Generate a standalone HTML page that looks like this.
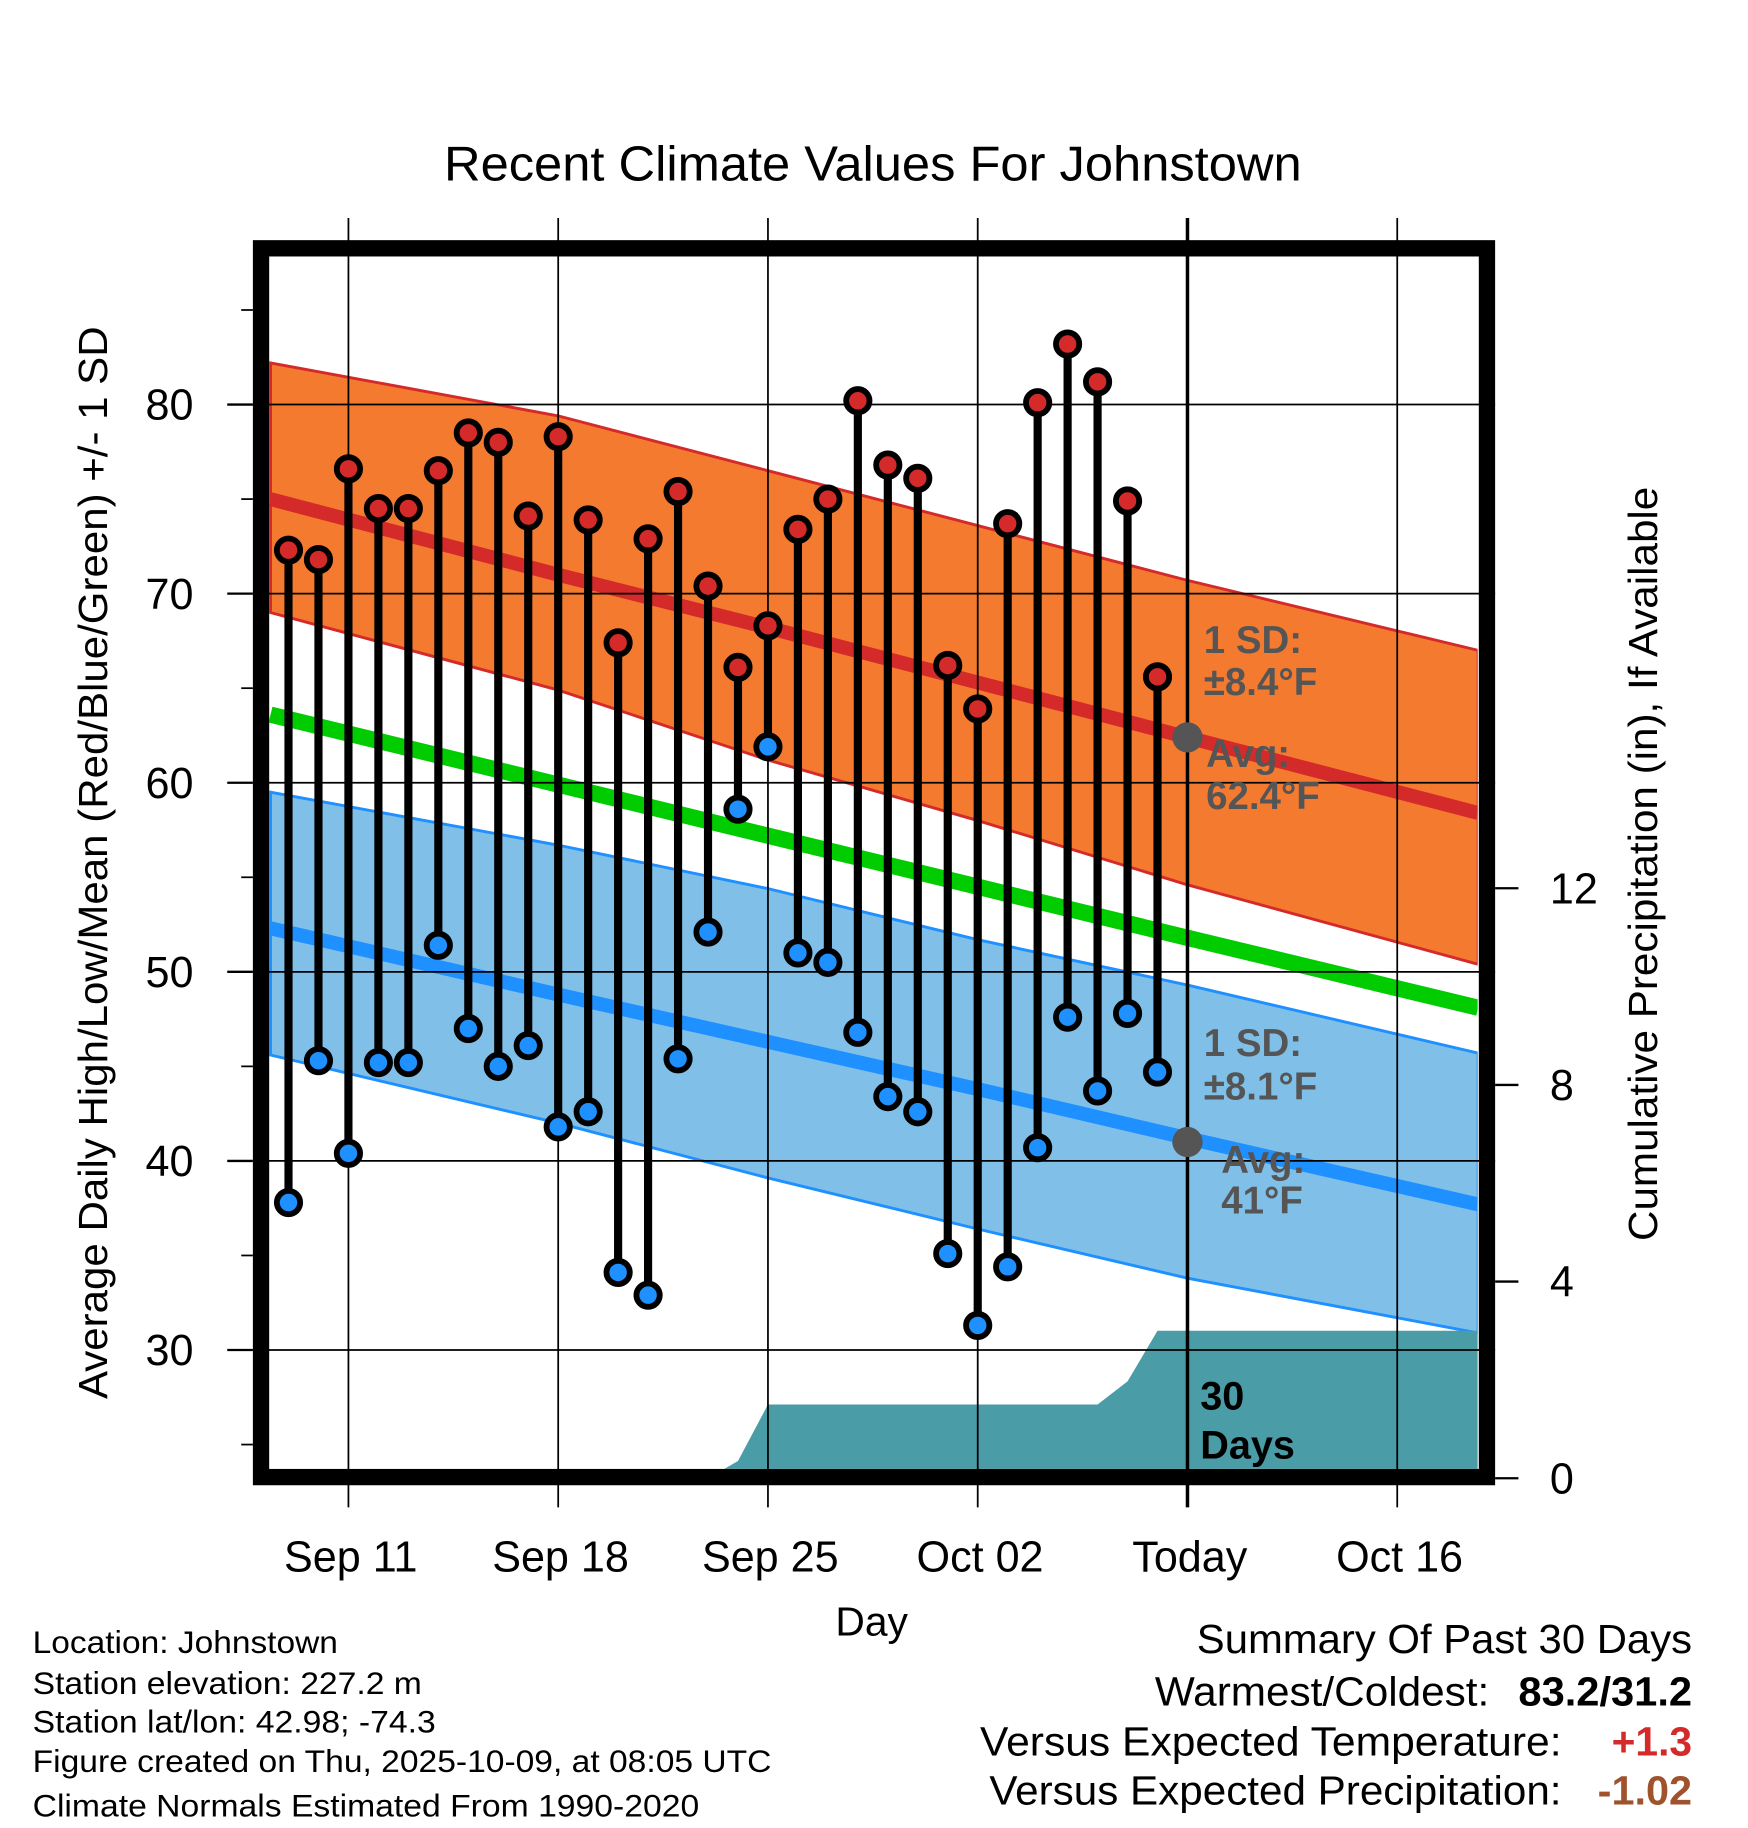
<!DOCTYPE html>
<html><head><meta charset="utf-8"><style>
html,body{margin:0;padding:0;background:#fff}
svg{display:block}
text{font-family:"Liberation Sans",Arial,sans-serif}
</style></head><body>
<svg id="chart" width="1748" height="1828" viewBox="0 0 1500 1568" preserveAspectRatio="none" xmlns="http://www.w3.org/2000/svg">
<defs><clipPath id="plotclip"><rect x="231" y="220" width="1037" height="1040"/></clipPath></defs>
<rect width="1500" height="1568" fill="#fff"/>
<text x="749" y="155" font-size="42" text-anchor="middle" textLength="736" lengthAdjust="spacingAndGlyphs">Recent Climate Values For Johnstown</text>
<g id="plot" clip-path="url(#plotclip)"></g>
<g id="grid"></g>
<g id="marks"></g>
<g id="annot"></g>
<rect x="224" y="213" width="1052" height="1054" fill="none" stroke="#000" stroke-width="14"/>
<g id="axes"></g>
<text transform="translate(92,740) rotate(-90)" font-size="35" text-anchor="middle" textLength="920" lengthAdjust="spacingAndGlyphs">Average Daily High/Low/Mean (Red/Blue/Green) +/- 1 SD</text>
<text transform="translate(1422,741) rotate(-90)" font-size="35" text-anchor="middle" textLength="647" lengthAdjust="spacingAndGlyphs">Cumulative Precipitation (in), If Available</text>
<text x="748" y="1403" font-size="35" text-anchor="middle">Day</text>
<g font-size="27">
<text x="28" y="1418" textLength="262" lengthAdjust="spacingAndGlyphs">Location: Johnstown</text>
<text x="28" y="1453" textLength="334" lengthAdjust="spacingAndGlyphs">Station elevation: 227.2 m</text>
<text x="28" y="1486" textLength="346" lengthAdjust="spacingAndGlyphs">Station lat/lon: 42.98; -74.3</text>
<text x="28" y="1520" textLength="634" lengthAdjust="spacingAndGlyphs">Figure created on Thu, 2025-10-09, at 08:05 UTC</text>
<text x="28" y="1558" textLength="572" lengthAdjust="spacingAndGlyphs">Climate Normals Estimated From 1990-2020</text>
</g>
<g font-size="35">
<text x="1027" y="1418" textLength="425" lengthAdjust="spacingAndGlyphs">Summary Of Past 30 Days</text>
<text x="991" y="1463" textLength="287" lengthAdjust="spacingAndGlyphs">Warmest/Coldest:</text>
<text x="1303" y="1463" font-weight="bold" textLength="149" lengthAdjust="spacingAndGlyphs">83.2/31.2</text>
<text x="841" y="1506" textLength="499" lengthAdjust="spacingAndGlyphs">Versus Expected Temperature:</text>
<text x="1383" y="1506" font-weight="bold" fill="#d42a2a" textLength="69" lengthAdjust="spacingAndGlyphs">+1.3</text>
<text x="849" y="1548" textLength="491" lengthAdjust="spacingAndGlyphs">Versus Expected Precipitation:</text>
<text x="1371" y="1548" font-weight="bold" fill="#a0522d" textLength="81" lengthAdjust="spacingAndGlyphs">-1.02</text>
</g>
</svg>
<script>
// day offsets relative to Sep 11 (Sep 9 = -2 ... Oct 8 = 27)
const days = [-2,-1,0,1,2,3,4,5,6,7,8,9,10,11,12,13,14,15,16,17,18,19,20,21,22,23,24,25,26,27];
const highs = [72.3,71.8,76.6,74.5,74.5,76.5,78.5,78.0,74.1,78.3,73.9,67.4,72.9,75.4,70.4,66.1,68.3,73.4,75.0,80.2,76.8,76.1,66.2,63.9,73.7,80.1,83.2,81.2,74.9,65.6];
const lows = [37.8,45.3,40.4,45.2,45.2,51.4,47.0,45.0,46.1,41.8,42.6,34.1,32.9,45.4,52.1,58.6,61.9,51.0,50.5,46.8,43.4,42.6,35.1,31.3,34.4,40.7,47.6,43.7,47.8,44.7];
const precip = [0,0,0,0,0,0,0,0,0,0,0,0,0,0,0,0.35,1.5,1.5,1.5,1.5,1.5,1.5,1.5,1.5,1.5,1.5,1.5,1.5,1.97,3.0];
// normals at day offsets
const normDays = [-2.6,7,14,21,28,37.7];
const normHigh = [75.0,71.0,68.2,65.3,62.4,58.4];
const normHighUp = [82.2,79.4,76.5,73.6,70.7,67.0];
const normHighLo = [69.0,64.9,61.2,58.0,54.6,50.4];
const normMean = [63.6,59.9,57.2,54.5,51.8,48.1];
const normLow = [52.3,48.8,46.3,43.8,41.2,37.7];
const normLowUp = [59.5,56.7,54.4,51.7,49.3,45.7];
const normLowLo = [45.6,42.0,39.1,36.4,33.8,30.9];
const yTicks = [30,40,50,60,70,80];
const y2Ticks = [0,4,8,12];
const xTickDays = [0,7,14,21,28,35];
const xTickLabels = ["Sep 11","Sep 18","Sep 25","Oct 02","Today","Oct 16"];

const NS="http://www.w3.org/2000/svg";
const X = d => 299 + d*180/7;
const Y = v => 347 + (80-v)*16.22;
const Y2 = p => 1268 - p*168.7/4;
function el(tag, attrs, parent){const e=document.createElementNS(NS,tag);for(const k in attrs)e.setAttribute(k,attrs[k]);parent.appendChild(e);return e;}
const plot=document.getElementById('plot'),grid=document.getElementById('grid'),marks=document.getElementById('marks'),axes=document.getElementById('axes'),annot=document.getElementById('annot');
function band(up,lo){let p=normDays.map((d,i)=>X(d)+','+Y(up[i]));p=p.concat(normDays.slice().reverse().map((d,i)=>X(d)+','+Y(lo[lo.length-1-i])));return p.join(' ');}
function line(arr){return normDays.map((d,i)=>X(d)+','+Y(arr[i])).join(' ');}

let e;
e=el('polygon',{points:band(normHighUp,normHighLo),fill:'#f47a30',stroke:'#d42a2a','stroke-width':2.5},plot);


e=el('polygon',{points:band(normLowUp,normLowLo),fill:'#80c0e8',stroke:'#1e90ff','stroke-width':2.5},plot);


e=el('polyline',{points:line(normHigh),fill:'none',stroke:'#d42a2a','stroke-width':12},plot);


e=el('polyline',{points:line(normMean),fill:'none',stroke:'#00cc00','stroke-width':14},plot);


e=el('polyline',{points:line(normLow),fill:'none',stroke:'#1e90ff','stroke-width':12},plot);


// precip area
let pp=[X(days[0])+','+Y2(0)];
days.forEach((d,i)=>pp.push(X(d)+','+Y2(precip[i])));
pp.push('1290,'+Y2(precip[precip.length-1]));pp.push('1290,'+Y2(0));
e=el('polygon',{points:pp.join(' '),fill:'#4a9ca6'},plot);



// grid
yTicks.forEach(v=>{
 e=el('line',{x1:217,x2:1283,y1:Y(v),y2:Y(v),stroke:'#000','stroke-width':1.5},grid);
 
 
 e=el('line',{x1:195,x2:217,y1:Y(v),y2:Y(v),stroke:'#000','stroke-width':2},axes);
 
 
 e=el('text',{x:166,y:Y(v)+13,'font-size':37,'text-anchor':'end'},axes);e.textContent=v;
 
 
});
for(let v=25;v<=85;v+=10){
 e=el('line',{x1:207,x2:217,y1:Y(v),y2:Y(v),stroke:'#000','stroke-width':1.5},axes);
 
 
}
y2Ticks.forEach(p=>{
 e=el('line',{x1:1283,x2:1303,y1:Y2(p),y2:Y2(p),stroke:'#000','stroke-width':2},axes);
 
 
 e=el('text',{x:1330,y:Y2(p)+13,'font-size':37},axes);e.textContent=p;
 
 
});
xTickDays.forEach((d,i)=>{
 e=el('line',{x1:X(d),x2:X(d),y1:187,y2:1293,stroke:'#000','stroke-width':i==4?3:1.5},grid);
 
 
 e=el('text',{x:X(d)+2,y:1348,'font-size':37,'text-anchor':'middle'},axes);e.textContent=xTickLabels[i];
 
 
});

// marks
days.forEach((d,i)=>{
 e=el('line',{x1:X(d),x2:X(d),y1:Y(highs[i]),y2:Y(lows[i]),stroke:'#000','stroke-width':7},marks);
 
 
});
days.forEach((d,i)=>{
 e=el('circle',{cx:X(d),cy:Y(highs[i]),r:10,fill:'#d42a2a',stroke:'#000','stroke-width':5},marks);
 
 
 e=el('circle',{cx:X(d),cy:Y(lows[i]),r:10,fill:'#1e90ff',stroke:'#000','stroke-width':5},marks);
 
 
});

// annotations
const tx=X(28);
e=el('circle',{cx:tx,cy:Y(62.4),r:13,fill:'#555'},annot);


e=el('circle',{cx:tx,cy:Y(41),r:13,fill:'#555'},annot);


const labels=[["1 SD:",1033,560,'#555'],["±8.4°F",1033,596,'#555'],["Avg:",1035,658,'#555'],["62.4°F",1035,694,'#555'],
["1 SD:",1033,906,'#555'],["±8.1°F",1033,943,'#555'],["Avg:",1048,1006,'#555'],["41°F",1048,1041,'#555'],
["30",1030,1209,'#000'],["Days",1030,1251,'#000']];
labels.forEach(l=>{
 e=el('text',{x:l[1],y:l[2],'font-size':l[3]=='#000'?34:33,'font-weight':'bold',fill:l[3]},annot);e.textContent=l[0];
 
 
});
</script>
</body></html>
